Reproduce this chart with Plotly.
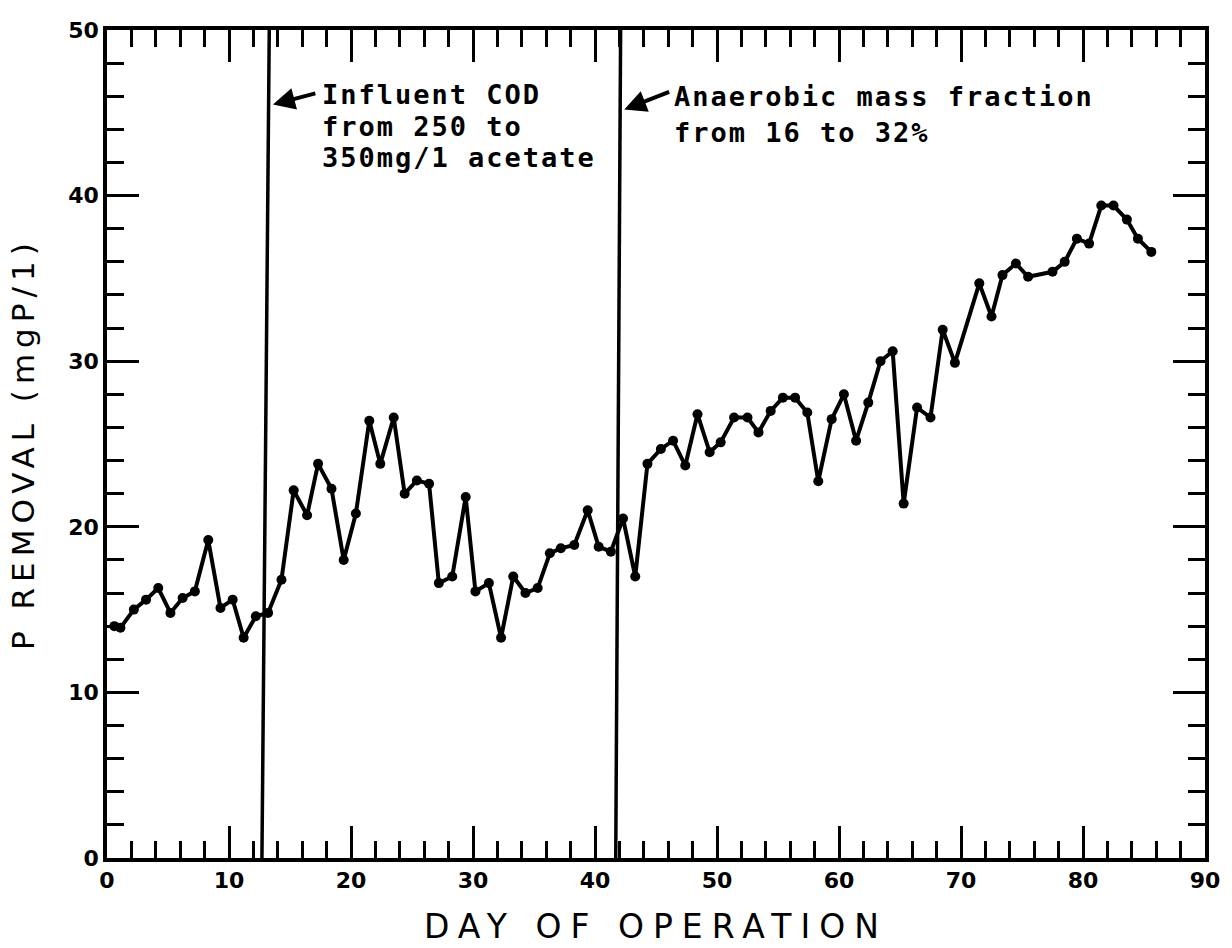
import plotly.graph_objects as go

# ---- data ----
day = [0.6, 1.1, 2.2, 3.2, 4.2, 5.2, 6.2, 7.2, 8.3, 9.3, 10.3, 11.2, 12.2, 13.2, 14.3,
       15.3, 16.4, 17.3, 18.4, 19.4, 20.4, 21.5, 22.4, 23.5, 24.4, 25.4, 26.4, 27.2,
       28.3, 29.4, 30.2, 31.3, 32.3, 33.3, 34.3, 35.3, 36.3, 37.2, 38.3, 39.4, 40.3,
       41.3, 42.3, 43.3, 44.3, 45.4, 46.4, 47.4, 48.4, 49.4, 50.3, 51.4, 52.5, 53.4,
       54.4, 55.4, 56.4, 57.4, 58.3, 59.4, 60.4, 61.4, 62.4, 63.4, 64.4, 65.3, 66.4,
       67.5, 68.5, 69.5, 71.5, 72.5, 73.4, 74.5, 75.5, 77.5, 78.5, 79.5, 80.5, 81.5,
       82.5, 83.6, 84.5, 85.6]
p_removal = [14.0, 13.9, 15.0, 15.6, 16.3, 14.8, 15.7, 16.1, 19.2, 15.1, 15.6, 13.3, 14.6,
             14.8, 16.8, 22.2, 20.7, 23.8, 22.3, 18.0, 20.8, 26.4, 23.8, 26.6, 22.0, 22.8,
             22.6, 16.6, 17.0, 21.8, 16.1, 16.6, 13.3, 17.0, 16.0, 16.3, 18.4, 18.7, 18.9,
             21.0, 18.8, 18.5, 20.5, 17.0, 23.8, 24.7, 25.2, 23.7, 26.8, 24.5, 25.1, 26.6,
             26.6, 25.7, 27.0, 27.8, 27.8, 26.9, 22.75, 26.5, 28.0, 25.2, 27.5, 30.0, 30.6,
             21.4, 27.2, 26.6, 31.9, 29.9, 34.7, 32.7, 35.2, 35.9, 35.1, 35.4, 36.0, 37.4,
             37.1, 39.4, 39.4, 38.55, 37.4, 36.6]

# vertical markers of operating changes (bottom x, top x; slightly slanted in original)
change_bottom = [12.7, 41.7]
change_top = [13.3, 42.1]

note1_lines = ["Influent COD", "from 250 to", "350mg/1 acetate"]
note1_y = [46.1, 44.2, 42.3]
note2_lines = ["Anaerobic mass fraction", "from 16 to 32%"]
note2_y = [46.0, 43.8]

x_ticks = [0, 10, 20, 30, 40, 50, 60, 70, 80, 90]
y_ticks = [0, 10, 20, 30, 40, 50]

fig = go.Figure()
fig.add_trace(go.Scatter(
    x=day, y=p_removal, mode="lines+markers",
    line=dict(color="black", width=4),
    marker=dict(color="black", size=10),
    showlegend=False,
))

for xb, xt in zip(change_bottom, change_top):
    fig.add_shape(type="line", x0=xb, y0=0, x1=xt, y1=50, xref="x", yref="y",
                  line=dict(color="black", width=3.5))

ann_font = dict(family="DejaVu Sans Mono", size=27, color="black", weight="bold")


def spaced(t, px):
    return '<span style="letter-spacing:%dpx">%s</span>' % (px, t)


for txt, yv in zip(note1_lines, note1_y):
    fig.add_annotation(x=17.45, y=yv, text=spaced(txt, 2), showarrow=False,
                       xanchor="left", yanchor="middle", font=ann_font)
for txt, yv in zip(note2_lines, note2_y):
    fig.add_annotation(x=46.3, y=yv, text=spaced(txt, 2), showarrow=False,
                       xanchor="left", yanchor="middle", font=ann_font)

# arrows
fig.add_annotation(x=13.6, y=45.5, ax=17.2, ay=46.2, axref="x", ayref="y",
                   xref="x", yref="y", text="", showarrow=True, arrowhead=2,
                   arrowsize=1.1, arrowwidth=4, arrowcolor="black")
fig.add_annotation(x=42.4, y=45.2, ax=46.2, ay=46.3, axref="x", ayref="y",
                   xref="x", yref="y", text="", showarrow=True, arrowhead=2,
                   arrowsize=1.1, arrowwidth=4, arrowcolor="black")

# axis titles
fig.add_annotation(xref="paper", yref="paper", x=0.5, y=0, yshift=-68,
                   text=spaced("DAY OF OPERATION", 9),
                   showarrow=False, yanchor="middle",
                   font=dict(family="DejaVu Sans", size=33, color="black"))
fig.add_annotation(xref="paper", yref="paper", x=0, y=0.5, xshift=-84,
                   text=spaced("P REMOVAL (mgP/1)", 6),
                   showarrow=False, textangle=-90, xanchor="center",
                   font=dict(family="DejaVu Sans", size=31, color="black"))

axis_common = dict(
    showline=True, linecolor="black", linewidth=3.5, mirror="ticks",
    ticks="inside", ticklen=32, tickwidth=3, tickcolor="black",
    showgrid=False, zeroline=False,
    tickfont=dict(family="DejaVu Sans", size=22, color="black", weight="bold"),
)

fig.update_xaxes(range=[0, 90], tickmode="array", tickvals=x_ticks,
                 ticktext=[str(v) for v in x_ticks],
                 minor=dict(dtick=2, ticks="inside", ticklen=17, tickwidth=3,
                            tickcolor="black"),
                 **axis_common)
fig.update_yaxes(range=[0, 50], tickmode="array", tickvals=y_ticks,
                 ticktext=[str(v) for v in y_ticks],
                 minor=dict(dtick=2, ticks="inside", ticklen=17, tickwidth=3,
                            tickcolor="black"),
                 **axis_common)

fig.update_layout(
    width=1232, height=948,
    margin=dict(l=107, r=24, t=30, b=90),
    plot_bgcolor="white", paper_bgcolor="white",
)

fig.write_html("out.html")
